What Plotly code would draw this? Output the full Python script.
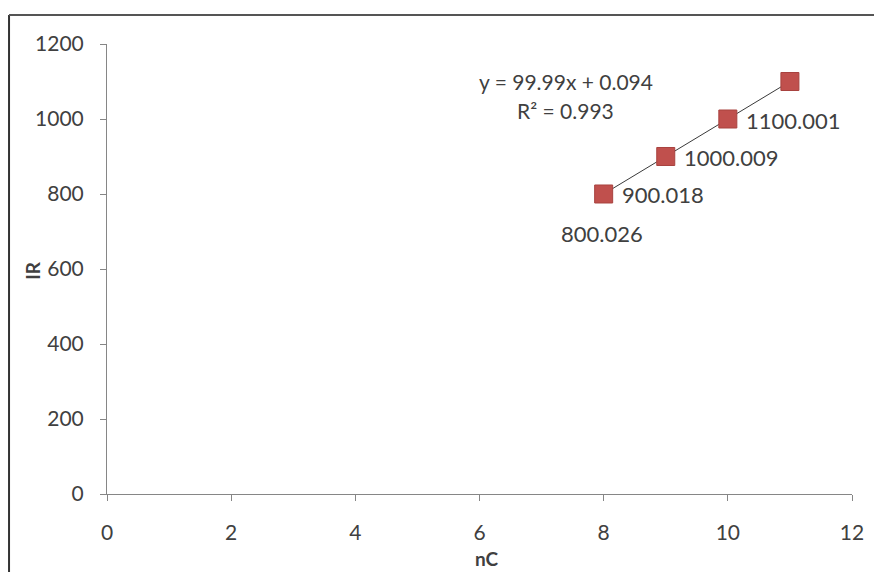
import plotly.graph_objects as go

nC = [8, 9, 10, 11]
IR = [800.026, 900.018, 1000.009, 1100.001]
point_labels = ["800.026", "900.018", "1000.009", "1100.001"]
slope, intercept = 99.99, 0.094
r_squared = 0.993
x_ticks = [0, 2, 4, 6, 8, 10, 12]
y_ticks = [0, 200, 400, 600, 800, 1000, 1200]

FONT = "Lato, Calibri, sans-serif"
TXT = "#404040"

fig = go.Figure()

trend_y = [slope * x + intercept for x in nC]
fig.add_trace(go.Scatter(x=[nC[0], nC[-1]], y=[trend_y[0], trend_y[-1]], mode="lines",
                         line=dict(color="#3a3a3a", width=1), hoverinfo="skip", showlegend=False))
fig.add_trace(go.Scatter(x=nC, y=IR, mode="markers",
                         marker=dict(symbol="square", size=18, color="#C0504D",
                                     line=dict(color="#A8423F", width=1)),
                         showlegend=False))

# data labels (Excel-like placement)
fig.add_annotation(x=nC[0], y=IR[0], text=point_labels[0], showarrow=False,
                   yshift=-40, xshift=-2, font=dict(size=22, color=TXT, family=FONT))
for i in range(1, 4):
    fig.add_annotation(x=nC[i - 1], y=IR[i - 1], text=point_labels[i], showarrow=False,
                       xanchor="left", xshift=16, yshift=-1,
                       font=dict(size=22, color=TXT, family=FONT))

fig.add_annotation(x=7.39, y=1100, text=f"y = {slope}x + {intercept}", showarrow=False,
                   yshift=0, font=dict(size=21, color=TXT, family=FONT))
fig.add_annotation(x=7.39, y=1100, text=f"R\u00b2 = {r_squared}", showarrow=False,
                   yshift=-29, font=dict(size=21, color=TXT, family=FONT))

# axis titles
fig.add_annotation(xref="paper", yref="paper", x=-0.0993, y=0.496, text="<b>IR</b>",
                   textangle=-90, showarrow=False, xanchor="center", yanchor="middle",
                   font=dict(size=19, color=TXT, family=FONT))
fig.add_annotation(xref="paper", yref="paper", x=0.51, y=-0.1444, text="<b>nC</b>",
                   showarrow=False, xanchor="center", yanchor="middle",
                   font=dict(size=19, color=TXT, family=FONT))

fig.update_xaxes(range=[0, 12], tickvals=x_ticks, ticks="outside", ticklen=6,
                 tickcolor="#868686", showline=True, linecolor="#868686", linewidth=1,
                 showgrid=False, zeroline=False, ticklabelstandoff=14,
                 tickfont=dict(size=21, color=TXT, family=FONT))
fig.update_yaxes(range=[0, 1200], tickvals=y_ticks, ticks="outside", ticklen=6,
                 tickcolor="#868686", showline=True, linecolor="#868686", linewidth=1,
                 showgrid=False, zeroline=False, ticklabelstandoff=12,
                 tickfont=dict(size=21, color=TXT, family=FONT))

# outer frame lines (left and top)
fig.add_shape(type="line", xref="paper", yref="paper", x0=-0.1315, x1=-0.1315, y0=-0.25, y1=1.0644,
              line=dict(color="#333333", width=2))
fig.add_shape(type="line", xref="paper", yref="paper", x0=-0.1315, x1=1.1, y0=1.0644, y1=1.0644,
              line=dict(color="#555555", width=2))

fig.update_layout(width=882, height=572, margin=dict(l=99, r=38, t=36, b=86),
                  paper_bgcolor="white", plot_bgcolor="white",
                  font=dict(family=FONT))

fig.write_html("out.html")
